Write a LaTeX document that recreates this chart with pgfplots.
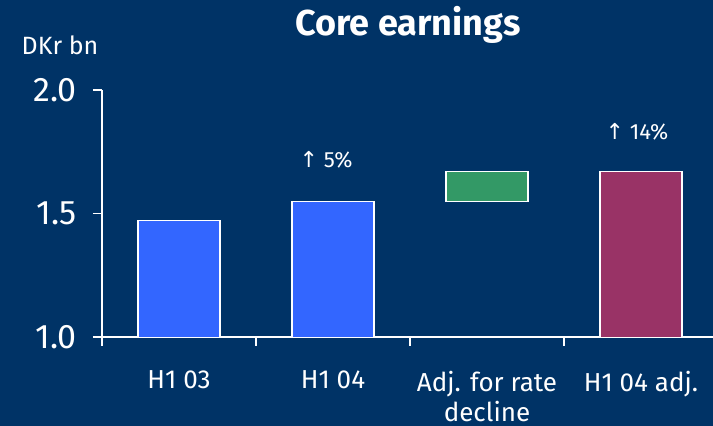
\documentclass[border=0pt]{standalone}
\usepackage{pgfplots}
\pgfplotsset{compat=1.18}
\usepackage{pgfplotstable}
\usepackage{fontspec}
\setmainfont{Fira Sans}
\newfontfamily\arrowfont{DejaVu Sans}

\definecolor{navy}{RGB}{0,51,102}
\definecolor{barblue}{RGB}{51,102,255}
\definecolor{bargreen}{RGB}{51,153,102}
\definecolor{barpurple}{RGB}{153,51,102}

% stacked layout: base is invisible, lifts the adjustment bar
\pgfplotstableread{
x   base blue green purple
0.5 0    1.47 0     0
1.5 0    1.55 0     0
2.5 1.55 0    0.12  0
3.5 0    0    0     1.67
}\earnings

\begin{document}
\begin{tikzpicture}
\fill[navy] (-51pt,-44.5pt) rectangle (305.5pt,168.5pt);
\begin{axis}[
  at={(0,0)}, anchor=south west,
  scale only axis,
  width=305.5pt, height=123.5pt,
  xmin=0, xmax=3.9675,
  ymin=1, ymax=2,
  ybar stacked,
  bar width=41pt,
  axis lines*=left,
  axis line style={white, line width=0.6pt},
  every tick/.style={white, line width=0.6pt},
  tick align=outside,
  major tick length=4.5pt,
  xtick={0,1,2,3},
  xticklabels={,,,},
  extra x ticks={0.5,1.5,2.5,3.5},
  extra x tick labels={H1 03,H1 04,{Adj. for rate\\decline},H1 04 adj.},
  extra x tick style={
    major tick length=0pt,
    tick label style={align=center, font=\fontsize{13}{15}\selectfont, yshift=-13.5pt},
  },
  ytick={1,1.5,2},
  yticklabel style={
    /pgf/number format/fixed,
    /pgf/number format/fixed zerofill,
    /pgf/number format/precision=1,
    font=\fontsize{17}{17}\selectfont,
    xshift=-4.5pt,
  },
  /pgf/number format/assume math mode=true,
  tick label style={text=white},
]
\addplot[draw=none, fill=none] table[x=x, y=base] {\earnings};
\addplot[draw=white, line width=0.6pt, fill=barblue] table[x=x, y=blue] {\earnings};
\addplot[draw=white, line width=0.6pt, fill=bargreen] table[x=x, y=green] {\earnings};
\addplot[draw=white, line width=0.6pt, fill=barpurple] table[x=x, y=purple] {\earnings};

\node[white, font=\fontsize{11}{11}\selectfont] at (axis cs:1.455,1.717) {{\arrowfont ↑} 5\%};
\node[white, font=\fontsize{11}{11}\selectfont] at (axis cs:3.474,1.83) {{\arrowfont ↑} 14\%};
\end{axis}

\node[white, font=\bfseries\fontsize{18}{18}\selectfont] at (153pt,156pt) {Core earnings};
\node[white, font=\fontsize{12.5}{13}\selectfont] at (-21pt,146pt) {DKr bn};

\pgfresetboundingbox
\path[use as bounding box] (-51pt,-44.5pt) rectangle (305.5pt,168.5pt);
\end{tikzpicture}
\end{document}
